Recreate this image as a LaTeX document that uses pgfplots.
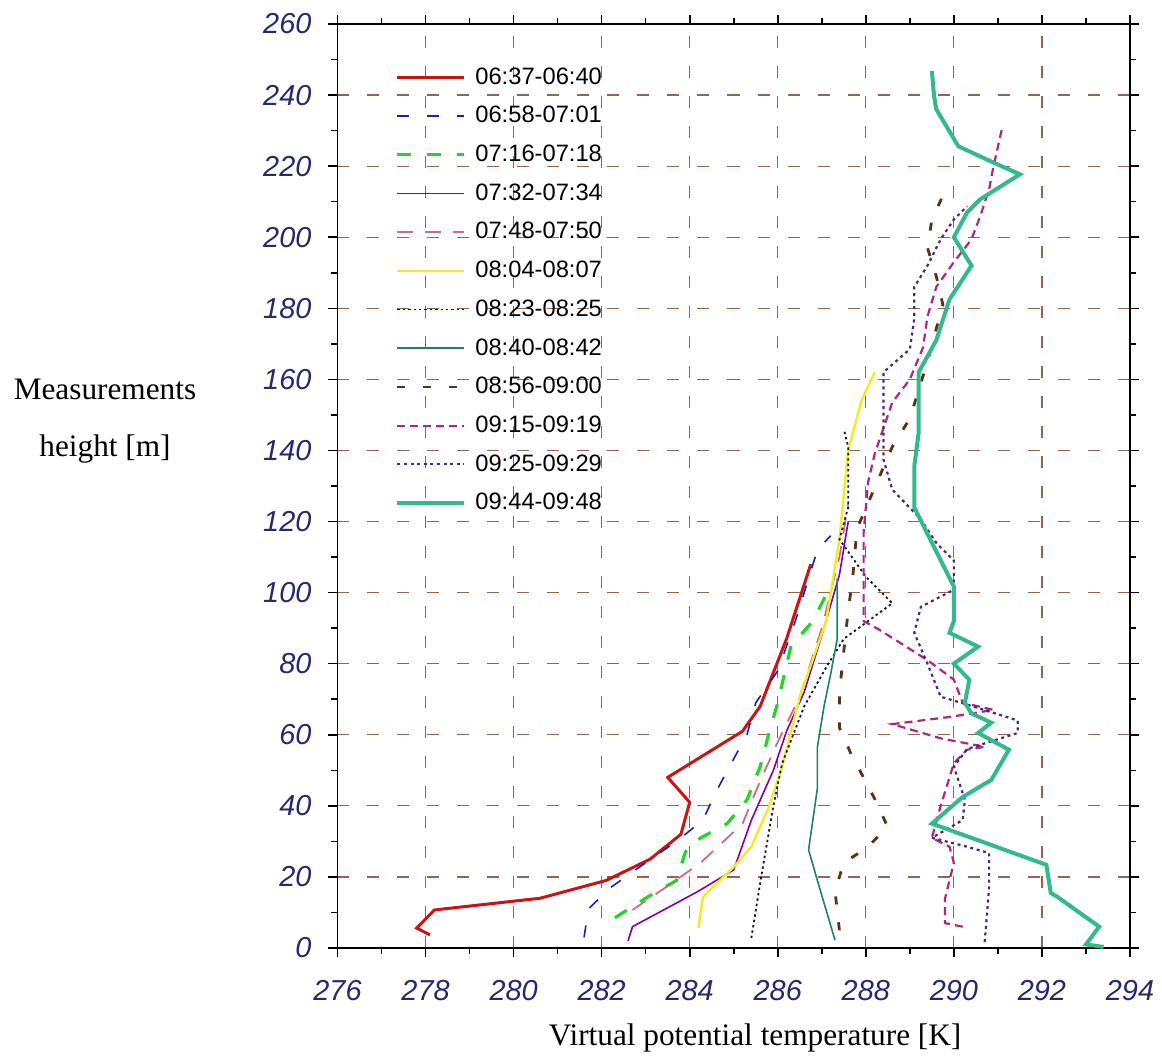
\documentclass[border=0pt]{standalone}
\usepackage{fontspec}
\setmainfont{Liberation Serif}
\newfontfamily\arialf{Liberation Sans}
\usepackage{pgfplots}
\pgfplotsset{compat=1.18}

\definecolor{tickblue}{RGB}{40,40,110}
\definecolor{gridbrown}{RGB}{150,100,70}
\definecolor{cRed}{RGB}{200,20,20}
\definecolor{cBlue}{RGB}{30,30,180}
\definecolor{cGreen}{RGB}{40,210,40}
\definecolor{cPurple}{RGB}{130,0,170}
\definecolor{cPink}{RGB}{200,110,130}
\definecolor{cYellow}{RGB}{240,235,40}
\definecolor{cBlack}{RGB}{20,20,50}
\definecolor{cTeal}{RGB}{30,130,100}
\definecolor{cBrown}{RGB}{90,50,20}
\definecolor{cMagenta}{RGB}{170,40,130}
\definecolor{cPurDot}{RGB}{70,40,130}
\definecolor{cSea}{RGB}{50,185,140}

\begin{document}
\begin{tikzpicture}
\path[use as bounding box] (-168.75bp,-58bp) rectangle (412.25bp,474bp);
\begin{axis}[
    at={(0,0)}, anchor=south west,
    scale only axis, width=396.25bp, height=462bp,
    xmin=276, xmax=294, ymin=0, ymax=260,
    xtick={276,278,...,294}, ytick={0,20,...,260},
    minor x tick num=1, minor y tick num=1,
    tick align=outside, major tick length=4.5bp, minor tick length=3bp,
    grid=major,
    major grid style={gridbrown, dash pattern=on 6bp off 9bp, line width=0.6bp},
    axis line style={line width=0.8bp},
    tick style={black, line width=0.8bp},
    /pgf/number format/assume math mode=true,
    ticklabel style={font=\arialf\itshape\fontsize{14.5}{16}\selectfont, text=tickblue},
    xticklabel style={yshift=-8bp},
    yticklabel style={xshift=-5bp},
    xlabel={Virtual potential temperature [K]},
    xlabel style={at={(axis description cs:0.527,-0.105)}, anchor=base,
      font=\fontsize{15.7}{19}\selectfont},
    ylabel={Measurements\\height [m]},
    ylabel style={rotate=-90, at={(axis description cs:-0.2934,0.570)}, anchor=center,
      align=center, font=\fontsize{15.7}{28.5}\selectfont},
    legend cell align=left,
    legend image code/.code={\draw[#1] (0bp,0bp) -- (33.5bp,0bp); \path (36bp,0bp);},
    legend style={at={(axis description cs:0.065,0.962)}, anchor=north west,
      draw=none, fill=none, row sep=5.6bp,
      font=\arialf\fontsize{11.9}{13}\selectfont},
  ]
  \addplot[cRed, line width=1.5bp] coordinates {
    (278.1,3.7) (277.8,5.6) (278.2,10.7) (280.6,14) (282.1,19) (283.1,25)
    (283.8,32) (284.0,41) (283.5,48) (285.2,61) (285.6,68) (286.2,87) (286.75,108)};
  \addlegendentry{06:37-06:40}
  \addplot[cBlue, line width=0.8bp, dash pattern=on 6bp off 9bp] coordinates {
    (281.6,3) (281.7,11) (282.2,17) (283.0,24) (283.7,30) (284.3,36) (284.6,44)
    (284.9,51) (285.3,60) (285.5,69) (286.0,78) (286.4,92) (286.9,112) (287.2,116)};
  \addlegendentry{06:58-07:01}
  \addplot[cGreen, line width=1.6bp, dash pattern=on 7bp off 8bp] coordinates {
    (282.3,8.5) (283.05,14.4) (283.7,19) (283.9,27) (284.25,31) (284.85,35)
    (285.3,41.7) (285.6,51) (285.8,60.5) (286.0,69) (286.3,85) (286.8,92) (287.2,102)};
  \addlegendentry{07:16-07:18}
  \addplot[cPurple, line width=0.8bp] coordinates {
    (282.6,2) (282.7,6) (283.3,10) (284.2,16) (285.0,22) (285.4,36) (285.9,50)
    (286.2,61) (286.6,72) (287.0,88) (287.4,105) (287.6,120)};
  \addlegendentry{07:32-07:34}
  \addplot[cPink, line width=0.9bp, dash pattern=on 8bp off 6bp] coordinates {
    (282.7,10.7) (283.6,18.3) (284.25,24) (285.2,35) (285.6,47) (286.0,58)
    (286.5,70.7) (287.0,90) (287.4,110) (287.6,125)};
  \addlegendentry{07:48-07:50}
  \addplot[cYellow, line width=1.2bp] coordinates {
    (284.2,5.6) (284.3,14.4) (285.0,22.8) (285.4,28.5) (285.8,39.7) (286.1,51)
    (286.5,70.7) (287.1,92) (287.4,115) (287.6,140) (287.9,154) (288.2,162)};
  \addlegendentry{08:04-08:07}
  \addplot[cBlack, line width=0.9bp, dash pattern=on 1.2bp off 1.5bp] coordinates {
    (285.4,2.8) (285.6,18.3) (285.9,40) (286.1,52) (286.6,68) (287.1,79) (287.5,87)
    (288.0,91.5) (288.6,97) (288.0,104.5) (287.4,115) (287.6,124) (287.6,141) (287.5,146)};
  \addlegendentry{08:23-08:25}
  \addplot[cTeal, line width=0.8bp] coordinates {
    (287.3,2.2) (286.9,19) (286.7,27.6) (286.9,45) (286.9,56.6) (287.05,68)
    (287.2,77) (287.35,87) (287.35,104)};
  \addlegendentry{08:40-08:42}
  \addplot[cBrown, line width=1.4bp, dash pattern=on 4bp off 9bp] coordinates {
    (287.4,5) (287.3,16) (287.5,24) (288.0,28) (288.5,34) (288.2,42) (287.65,55)
    (287.4,62) (287.4,72) (287.6,95) (287.7,104) (287.8,118) (288.6,141) (289.0,149)
    (289.4,165) (289.55,172) (289.75,181) (289.6,189) (289.4,197) (289.5,205) (289.8,213)};
  \addlegendentry{08:56-09:00}
  \addplot[cMagenta, line width=1.1bp, dash pattern=on 4bp off 2.5bp] coordinates {
    (290.2,6) (289.8,7) (289.8,14) (290.0,24) (289.9,28.5) (289.5,31) (289.7,40)
    (290.0,52) (290.3,55.8) (290.7,56.6) (289.7,59) (288.6,63) (289.9,65) (290.9,67)
    (290.2,69) (290.0,75.5) (289.4,81) (288.3,89.6) (287.95,92) (287.95,117)
    (288.05,131) (288.2,139) (288.6,153.5) (289.0,160) (289.3,169) (289.4,177.7)
    (289.6,186) (290.0,193) (290.4,199.4) (290.6,206) (290.8,213.5) (290.9,220) (291.1,231)};
  \addlegendentry{09:15-09:19}
  \addplot[cPurDot, line width=1.1bp, dash pattern=on 1.5bp off 1.8bp] coordinates {
    (290.7,1.7) (290.8,17) (290.8,26.7) (290.3,28.5) (289.5,31) (290.2,36)
    (290.25,41.7) (290.0,51) (290.3,56) (291.45,60.5) (291.45,64) (291.2,65)
    (290.3,68.5) (289.7,70.7) (289.4,80) (289.1,88.7) (289.25,96) (290.0,100.8)
    (290.0,109) (289.6,114) (289.25,120.6) (288.6,129) (288.4,137.5) (288.4,148.7)
    (288.4,162) (289.0,168.5) (289.1,177) (289.1,186) (289.4,192) (289.7,199.4)
    (290.0,205) (290.3,208.7)};
  \addlegendentry{09:25-09:29}
  \addplot[cSea, line width=2bp] coordinates {
    (293.4,0.3) (293.0,1) (293.3,6) (292.35,14.4) (292.2,15.5) (292.1,23.4)
    (289.5,35) (290.2,42.5) (290.85,47.3) (291.25,55.8) (290.55,60.5) (290.85,63.4)
    (290.4,66) (290.25,69) (290.35,75.5) (290.0,80) (290.55,84.8) (289.9,88.7)
    (290.0,92) (290.0,101.7) (289.1,124) (289.1,135.5) (289.2,145) (289.2,162)
    (289.6,171) (289.9,182.5) (290.4,192) (290.0,200) (290.3,207) (290.6,210.7)
    (291.5,217.7) (290.9,221) (290.1,225.6) (289.6,236) (289.55,239.7) (289.5,246.8)};
  \addlegendentry{09:44-09:48}
\end{axis}
\end{tikzpicture}
\end{document}
